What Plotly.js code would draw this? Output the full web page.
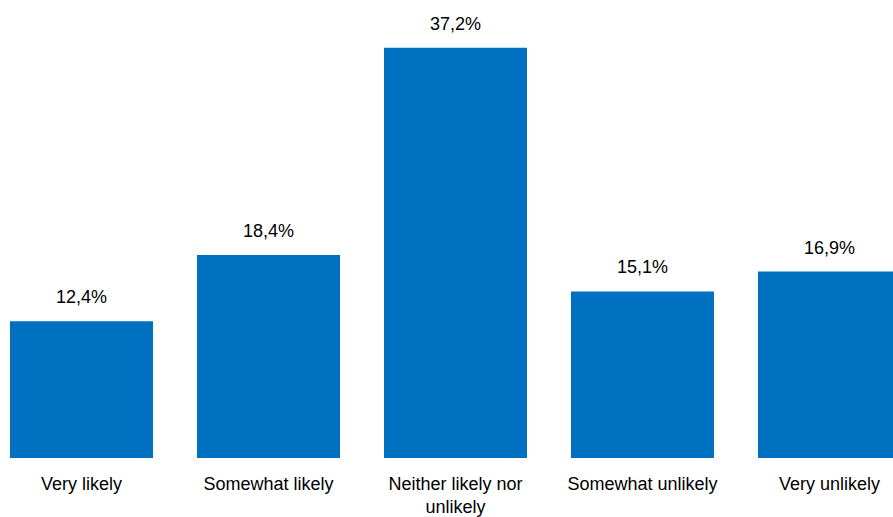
<!DOCTYPE html>
<html>
<head>
<meta charset="utf-8">
<script src="https://cdn.plot.ly/plotly-3.0.1.min.js"></script>
<style>
  html, body { margin: 0; padding: 0; background: #ffffff; }
  #chart { width: 893px; height: 517px; }
</style>
</head>
<body>
<div id="chart"></div>
<script>
// Survey responses: share of respondents per likelihood answer
const categories = ["Very likely", "Somewhat likely", "Neither likely nor<br>unlikely", "Somewhat unlikely", "Very unlikely"];
const values = [12.4, 18.4, 37.2, 15.1, 16.9];

const FONT = '"Liberation Sans", Arial, sans-serif';

function pct(v) {
  return v.toFixed(1).replace('.', ',') + '%';
}

const trace = {
  type: 'bar',
  x: categories,
  y: values,
  marker: { color: '#0070C0' },
  hoverinfo: 'none'
};

const annotations = values.map((v, i) => ({
  x: categories[i],
  y: v,
  xref: 'x',
  yref: 'y',
  text: pct(v),
  showarrow: false,
  yanchor: 'bottom',
  yshift: 12,
  font: { family: FONT, size: 18, color: '#000000' }
}));

const layout = {
  width: 893,
  height: 517,
  margin: { l: 0, r: 0, t: 0, b: 59 },
  paper_bgcolor: '#ffffff',
  plot_bgcolor: '#ffffff',
  bargap: 0.2353,
  showlegend: false,
  xaxis: {
    type: 'category',
    range: [-0.4358, 4.3396],
    showgrid: false,
    zeroline: false,
    showline: false,
    ticks: '',
    ticklabelstandoff: 13,
    tickfont: { family: FONT, size: 18, color: '#000000' }
  },
  yaxis: {
    range: [0, 41.52],
    visible: false,
    showgrid: false,
    zeroline: false
  },
  annotations: annotations
};

Plotly.newPlot('chart', [trace], layout, { displayModeBar: false, staticPlot: true });
</script>
</body>
</html>
